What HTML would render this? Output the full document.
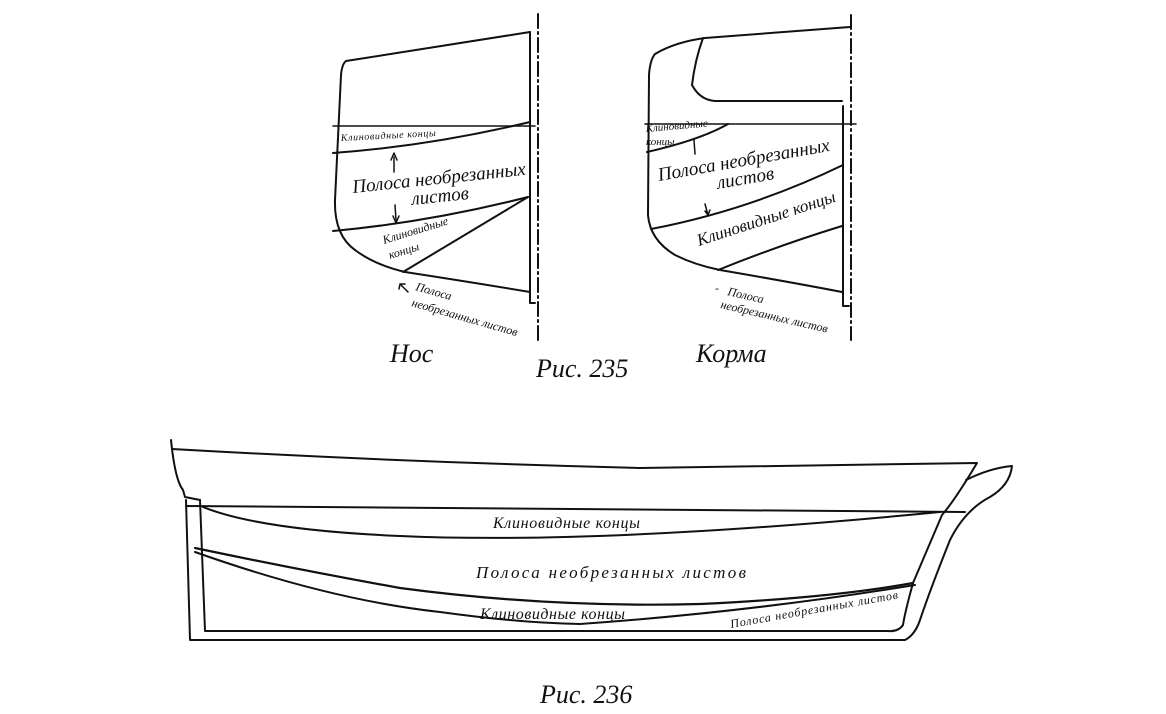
<!DOCTYPE html>
<html><head><meta charset="utf-8"><style>
html,body{margin:0;padding:0;background:#fff;}
svg{display:block}
text{font-family:"Liberation Serif","DejaVu Serif",serif;font-style:italic;fill:#111}
</style></head><body>
<svg width="1166" height="714" viewBox="0 0 1166 714" xmlns="http://www.w3.org/2000/svg">
<g fill="none" stroke="#111" stroke-width="2" stroke-linecap="round" stroke-linejoin="round">
<!-- Нос -->
<path d="M530,32 L346,61 Q342,64 341,75 L335,200 Q334,235 355,250 Q375,265 405,272 Q470,282 530,292"/>
<path d="M530,32 L530,303 L535,303"/>
<line x1="333" y1="126" x2="535" y2="126" stroke-width="1.6"/>
<path d="M333,153 Q430,146 530,122"/>
<path d="M333,231 Q430,222 528,197"/>
<line x1="403" y1="272" x2="528" y2="197"/>
<line x1="394" y1="157" x2="394" y2="172" stroke-width="1.5"/>
<path d="M391,160 L394,153 L397,160" stroke-width="1.5"/>
<line x1="395" y1="205" x2="396" y2="220" stroke-width="1.5"/>
<path d="M393,216 L396,223 L399,216" stroke-width="1.5"/>
<path d="M408,292 L400,284 M400,284 L399,289 M400,284 L405,284" stroke-width="1.5"/>
<line x1="538" y1="14" x2="538" y2="340" stroke-width="2" stroke-dasharray="14,4,2,4"/>
<!-- Корма -->
<path d="M850,27 L705,38 Q675,42 655,54 Q650,60 649,75 L648,215 Q650,240 675,255 Q695,265 720,270 Q790,282 842,292"/>
<path d="M703,38 Q695,60 692,85 Q700,100 715,101 L842,101"/>
<path d="M843,106 L843,306 L849,306"/>
<line x1="645" y1="124" x2="856" y2="124" stroke-width="1.6"/>
<path d="M647,152 Q700,140 728,124"/>
<path d="M651,229 Q750,210 843,165"/>
<path d="M718,270 Q780,245 842,226"/>
<line x1="694" y1="140" x2="695" y2="154" stroke-width="1.5"/>
<path d="M705,204 L708,215 M705,211 L708,215 L710,210" stroke-width="1.5"/>
<line x1="851" y1="15" x2="851" y2="340" stroke-width="2" stroke-dasharray="14,4,2,4"/>
<!-- Рис 236 -->
<path d="M171,440 Q175,480 183,490 L185,497 L200,500"/>
<path d="M172,449 Q400,462 640,468 L977,463 Q955,500 942,515 Q925,555 913,583 Q905,612 903,625 Q898,632 888,631 L205,631 L200,500"/>
<path d="M966,480 Q990,468 1012,466 Q1010,485 990,497 Q965,510 950,540 Q930,590 920,620 Q915,635 905,640 L190,640 L186,500"/>
<line x1="186" y1="506" x2="965" y2="512"/>
<path d="M203,507 Q260,530 400,536 Q600,545 940,512" stroke-width="2"/>
<path d="M195,548 Q300,570 400,588 Q550,608 700,604 Q830,598 913,583" stroke-width="2.2"/>
<path d="M195,552 Q330,600 440,612 Q520,623 580,624 Q750,612 915,585" stroke-width="2"/>
</g>
<g font-size="11">
<text x="341" y="141" font-size="10" textLength="95" transform="rotate(-3 341 141)">Клиновидные концы</text>
<text x="353" y="193" font-size="19" transform="rotate(-6 353 193)">Полоса необрезанных</text>
<text x="412" y="205" font-size="19" transform="rotate(-6 412 205)">листов</text>
<text x="384" y="244" font-size="12" transform="rotate(-17 384 244)">Клиновидные</text>
<text x="390" y="259" font-size="12" transform="rotate(-17 390 259)">концы</text>
<text x="415" y="290" font-size="12" transform="rotate(16 415 290)">Полоса</text>
<text x="411" y="306" font-size="12" transform="rotate(16 411 306)">необрезанных листов</text>
<text x="646" y="132" font-size="11" transform="rotate(-5 646 132)">Клиновидные</text>
<text x="646" y="145" font-size="11">концы</text>
<text x="659" y="181" font-size="19" transform="rotate(-10 659 181)">Полоса необрезанных</text>
<text x="718" y="189" font-size="19" transform="rotate(-10 718 189)">листов</text>
<text x="699" y="246" font-size="17" transform="rotate(-18 699 246)">Клиновидные концы</text>
<text x="715" y="292" font-size="12">-</text>
<text x="727" y="295" font-size="12" transform="rotate(13 727 295)">Полоса</text>
<text x="720" y="308" font-size="12" transform="rotate(13 720 308)">необрезанных листов</text>
<text x="493" y="528" font-size="16" textLength="147">Клиновидные концы</text>
<text x="476" y="578" font-size="17" textLength="270">Полоса необрезанных листов</text>
<text x="480" y="619" font-size="16" textLength="145">Клиновидные концы</text>
<text x="731" y="628" font-size="12" textLength="170" transform="rotate(-10 731 628)">Полоса необрезанных листов</text>
</g>
<text x="390" y="362" font-size="26">Нос</text>
<text x="536" y="377" font-size="26" font-style="normal">Рис. 235</text>
<text x="696" y="362" font-size="26">Корма</text>
<text x="540" y="703" font-size="26" font-style="normal">Рис. 236</text>
</svg>
</body></html>
